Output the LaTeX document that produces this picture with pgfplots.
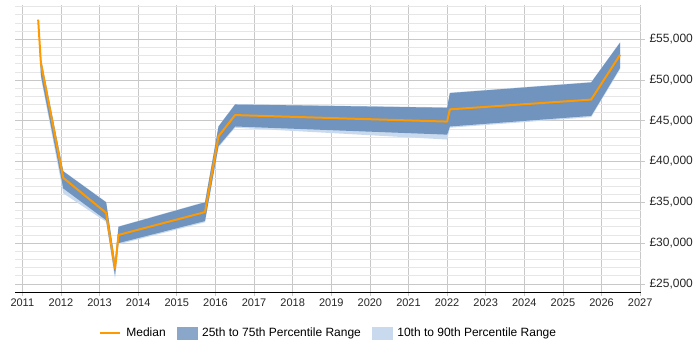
\documentclass[border=0pt]{standalone}
\usepackage{fontspec}
\setmainfont{Liberation Sans}
\usepackage{pgfplots}
\pgfplotsset{compat=1.18}
\usepackage{pgfplotstable}

\definecolor{medianorange}{HTML}{FF9900}
\definecolor{iqrblue}{HTML}{7094BE}
\definecolor{iqrlegend}{HTML}{8AA6C8}
\definecolor{decileblue}{HTML}{C9DAEE}
\definecolor{majorgrid}{HTML}{C8C8C8}
\definecolor{minorgrid}{HTML}{E6E6E6}

% year and median salary
\pgfplotstableread{
x       med
2011.41 57400
2011.48 52100
2012.06 38000
2013.17 33700
2013.40 26900
2013.49 31000
2015.73 33800
2016.08 43100
2016.51 45700
2022.00 44900
2022.07 46400
2025.73 47600
2026.48 53100
}\salary

\begin{document}
\begin{tikzpicture}
\useasboundingbox (0,0) rectangle (700pt,350pt);
\begin{axis}[
  at={(15pt,58pt)}, anchor=south west,
  scale only axis,
  width=626pt, height=287pt,
  xmin=2010.81, xmax=2027.02,
  ymin=24000, ymax=59200,
  axis x line*=bottom, axis y line*=right,
  x axis line style={black, thin},
  y axis line style={draw=none},
  xtick={2011,...,2027},
  ytick={25000,30000,...,55000},
  minor ytick={24000,25000,...,59000},
  scaled y ticks=false,
  grid=both,
  major grid style={majorgrid, line width=0.6pt},
  minor grid style={minorgrid, line width=0.6pt},
  tick style={majorgrid, line width=0.6pt},
  tick align=outside,
  major tick length=4pt,
  minor tick length=0pt,
  /pgf/number format/assume math mode=true,
  xticklabel style={font=\fontsize{11}{13}\selectfont, text=black!85, yshift=1pt},
  yticklabel style={font=\fontsize{12}{14}\selectfont, text=black!85, xshift=1pt},
  xticklabel={\pgfmathprintnumber[fixed,precision=0,1000 sep={}]{\tick}},
  yticklabel={£\pgfmathprintnumber[fixed,precision=0,1000 sep={,}]{\tick}},
  legend style={
    at={(0.5,-0.143)}, anchor=center,
    draw=none, fill=none,
    legend columns=-1,
    font=\fontsize{12}{14}\selectfont,
    nodes={inner xsep=1pt},
    % odd columns hold the images, even columns the texts
    /tikz/every odd column/.append style={column sep=4pt},
    /tikz/every even column/.append style={column sep=10pt},
  },
  legend cell align=left,
]
% legend entries: median, interquartile band, decile band
\addlegendimage{legend image code/.code={
  \draw[medianorange, line width=2.5pt] (0pt,0pt) -- (20pt,0pt);}}
\addlegendentry{Median}
\addlegendimage{legend image code/.code={
  \fill[iqrlegend] (0pt,-6pt) rectangle (20pt,6pt);}}
\addlegendentry{25th to 75th Percentile Range}
\addlegendimage{legend image code/.code={
  \fill[decileblue] (0pt,-6pt) rectangle (20pt,6pt);}}
\addlegendentry{10th to 90th Percentile Range}

% 10th to 90th band as closed polygon (upper edge forward, lower edge back)
\addplot[fill=decileblue, draw=none, forget plot] coordinates {
  (2011.41,57400) (2011.48,52700) (2012.06,38850) (2013.17,35050)
  (2013.40,27750) (2013.49,32050) (2015.73,35050) (2016.08,44350)
  (2016.51,47050) (2022.00,46650) (2022.07,48450) (2025.73,49750)
  (2026.48,54650)
  (2026.48,51350) (2025.73,45450) (2022.07,44150) (2022.00,42700)
  (2016.51,44150) (2016.08,41750) (2015.73,32550) (2013.49,29850)
  (2013.40,25600) (2013.17,32600) (2012.06,36100) (2011.48,50300)
} -- cycle;
% 25th to 75th band
\addplot[fill=iqrblue, draw=none, forget plot] coordinates {
  (2011.41,57400) (2011.48,52600) (2012.06,38800) (2013.17,35000)
  (2013.40,27700) (2013.49,32000) (2015.73,35000) (2016.08,44300)
  (2016.51,47000) (2022.00,46600) (2022.07,48400) (2025.73,49700)
  (2026.48,54600)
  (2026.48,51500) (2025.73,45600) (2022.07,44300) (2022.00,43300)
  (2016.51,44300) (2016.08,41900) (2015.73,32700) (2013.49,30000)
  (2013.40,26000) (2013.17,32800) (2012.06,36700) (2011.48,50600)
} -- cycle;
% median
\addplot[medianorange, line width=2pt, line join=round, forget plot]
  table[x=x, y=med] {\salary};
\end{axis}
\end{tikzpicture}
\end{document}
